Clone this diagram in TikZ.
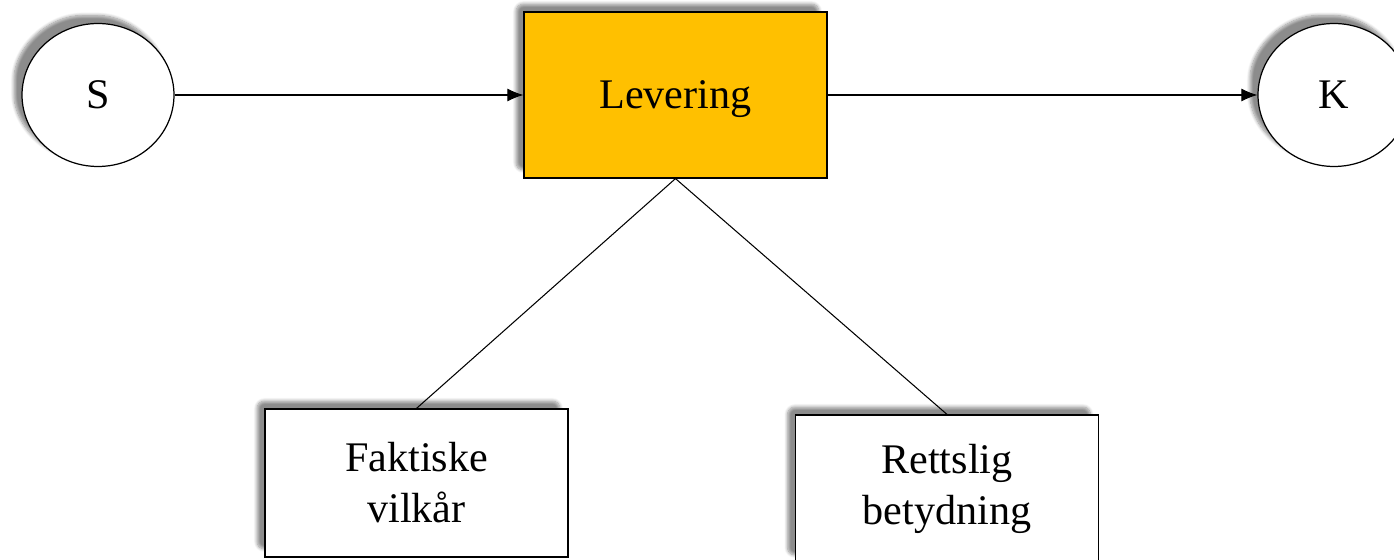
\documentclass[tikz,border=0pt]{standalone}
\usepackage{fontspec}
\setmainfont{Liberation Serif}
\usetikzlibrary{arrows.meta,positioning,shapes.geometric,shadows.blur}
\definecolor{leveringfill}{HTML}{FFC000}

\begin{document}
\begin{tikzpicture}[x=0.02cm, y=-0.02cm, auto]
    \tikzset{
      shadowed/.style={blur shadow={shadow xshift=-1.6mm,shadow yshift=1.6mm,shadow blur steps=8,shadow blur extra rounding=1.5mm,shadow opacity=45}},
      partynode/.style={ellipse,draw=black,line width=0.7pt,fill=white,shadowed,inner sep=0em,minimum width=3.04cm,minimum height=2.86cm,font=\fontsize{24}{29}\selectfont},
      mainnode/.style={rectangle,draw=black,line width=0.7pt,fill=leveringfill,shadowed,inner sep=0em,text depth=0pt,minimum width=6.06cm,minimum height=3.32cm,font=\fontsize{24}{29}\selectfont},
      rectnode/.style={rectangle,draw=black,line width=0.7pt,fill=white,shadowed,inner sep=0em,minimum width=6.06cm,minimum height=2.96cm,text width=5.5cm,align=center,font=\fontsize{24}{29}\selectfont},
      arrow/.style={-{Latex[length=3.2mm,width=2.6mm]},line width=0.6pt},
      link/.style={line width=0.6pt}
    }
    \useasboundingbox (0,0) rectangle (1394,560);
    \node[partynode](seller) at (98,95){S};
    \node[mainnode](delivery) at (675.5,95){Levering};
    \node[partynode](buyer) at (1334,95){K};
    \node[rectnode](factual) at (416.5,483){Faktiske\\vilkår};
    \node[rectnode](legal) at (947,489){Rettslig\\betydning};

    \draw[arrow](seller) -- (delivery);
    \draw[arrow](delivery) -- (buyer);
    \draw[link](delivery.south) -- (factual.north);
    \draw[link](delivery.south) -- (legal.north);
\end{tikzpicture}
\end{document}
